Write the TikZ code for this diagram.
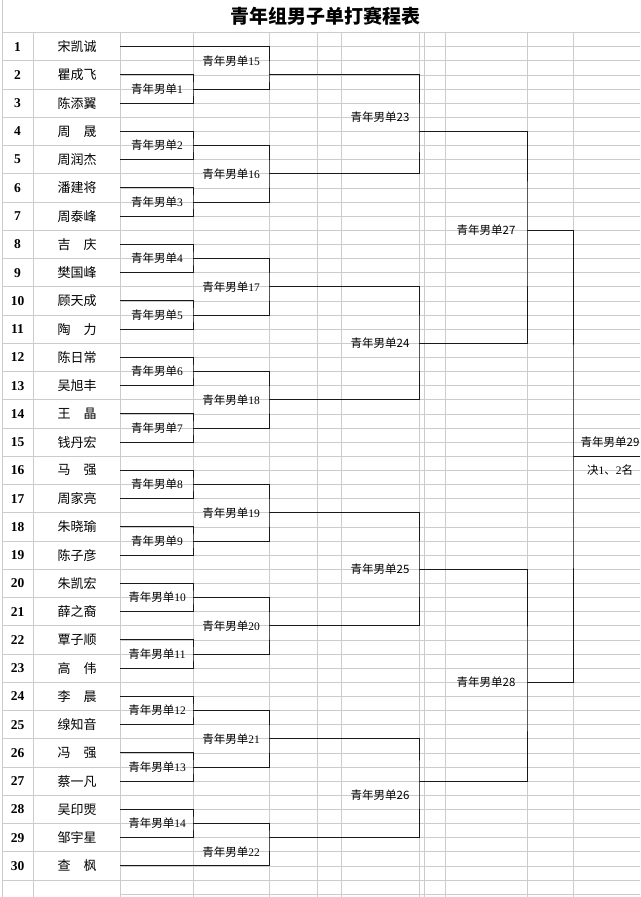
\documentclass[tikz,border=0pt]{standalone}
\usepackage{fontspec}
\setmainfont{Liberation Serif}
\newfontfamily\cjk{Noto Sans CJK SC}
\begin{document}
\begin{tikzpicture}[x=1pt,y=-14.125pt,
  gridline/.style={draw=black!20, line width=0.6pt},
  br/.style={draw=black!90, line width=0.8pt},
  pname/.style={font=\cjk\fontsize{13}{13}\selectfont, inner sep=0pt},
  pnum/.style={font=\bfseries\fontsize{13.5}{13.5}\selectfont, inner sep=0pt},
  labs/.style={font=\fontsize{11.5}{11.5}\selectfont, inner sep=0pt},
  labc/.style={font=\cjk\fontsize{11.5}{11.5}\selectfont, inner sep=0pt},
]
\begin{scope}[yshift=-32.5pt]
\useasboundingbox (0,-2.30088) rectangle (640,61.2035);
\fill[white] (0,-2.30088) rectangle (640,61.2035);
% title
\node[font=\cjk\bfseries\fontsize{19}{19}\selectfont, inner sep=0pt] (title) at (325,-1.17) {青年组男子单打赛程表};
% grid
\draw[gridline] (2,-2.30088) -- (2,61.2035);
\foreach \x in {33,120,193,269,317,341,419,424,445,527,573}
  \draw[gridline] (\x,0) -- (\x,61.2035);
\foreach \n in {0,2,...,60}
  \draw[gridline] (2,\n) -- (120,\n);
\foreach \n in {0,...,61}
  \draw[gridline] (120,\n) -- (640,\n);
% players
\foreach \i/\nm in {1/宋凯诚,2/瞿成飞,3/陈添翼,4/周　晟,5/周润杰,6/潘建将,7/周泰峰,8/吉　庆,9/樊国峰,10/顾天成,11/陶　力,12/陈日常,13/吴旭丰,14/王　晶,15/钱丹宏,16/马　强,17/周家亮,18/朱晓瑜,19/陈子彦,20/朱凯宏,21/薛之裔,22/覃子顺,23/高　伟,24/李　晨,25/缐知音,26/冯　强,27/蔡一凡,28/吴印煚,29/邹宇星,30/查　枫}{
  \node[pnum] (num\i) at (17.5,{2*\i-1}) {\i};
  \node[pname] (p\i) at (77,{2*\i-1}) {\nm};
  \coordinate (pe\i) at (120,{2*\i-1});
}
% round 1
\foreach \k in {1,...,14}{
  \coordinate (m\k) at (193,{4*\k});
  \node[labs] (l\k) at (157,{4*\k}) {{\cjk 青年男单}\k};
}
\foreach \k [evaluate=\k as \a using int(2*\k), evaluate=\k as \b using int(2*\k+1)] in {1,...,14}
  \draw[br] (pe\a) -| (m\k) |- (pe\b);
% round 2
\foreach \k/\ny/\ly in {15/3/2,16/10/10,17/18/18,18/26/26,19/34/34,20/42/42,21/50/50,22/57/58}{
  \coordinate (m\k) at (269,\ny);
  \node[labs] (l\k) at (231,\ly) {{\cjk 青年男单}\k};
}
\draw[br] (pe1) -| (m15) |- (m1);
\draw[br] (m2) -| (m16) |- (m3);
\draw[br] (m4) -| (m17) |- (m5);
\draw[br] (m6) -| (m18) |- (m7);
\draw[br] (m8) -| (m19) |- (m9);
\draw[br] (m10) -| (m20) |- (m11);
\draw[br] (m12) -| (m21) |- (m13);
\draw[br] (m14) -| (m22) |- (pe30);
% round 3
\foreach \k/\ny/\ly in {23/7/6,24/22/22,25/38/38,26/53/54}{
  \coordinate (m\k) at (419,\ny);
  \node[labc] (l\k) at (380,\ly) {青年男单\k};
}
\draw[br] (m15) -| (m23) |- (m16);
\draw[br] (m17) -| (m24) |- (m18);
\draw[br] (m19) -| (m25) |- (m20);
\draw[br] (m21) -| (m26) |- (m22);
% round 4
\coordinate (m27) at (527,14);
\coordinate (m28) at (527,46);
\node[labc] (l27) at (486,14) {青年男单27};
\node[labc] (l28) at (486,46) {青年男单28};
\draw[br] (m23) -| (m27) |- (m24);
\draw[br] (m25) -| (m28) |- (m26);
% final
\coordinate (m29) at (573,30);
\coordinate (fin) at (640,30);
\node[labc] (l29) at (610,29) {青年男单29};
\node[labs] (rank) at (610,31) {{\cjk 决}1{\cjk 、}2{\cjk 名}};
\draw[br] (m27) -| (m29) |- (m28);
\draw[br] (m29) -- (fin);
\end{scope}
\end{tikzpicture}
\end{document}
